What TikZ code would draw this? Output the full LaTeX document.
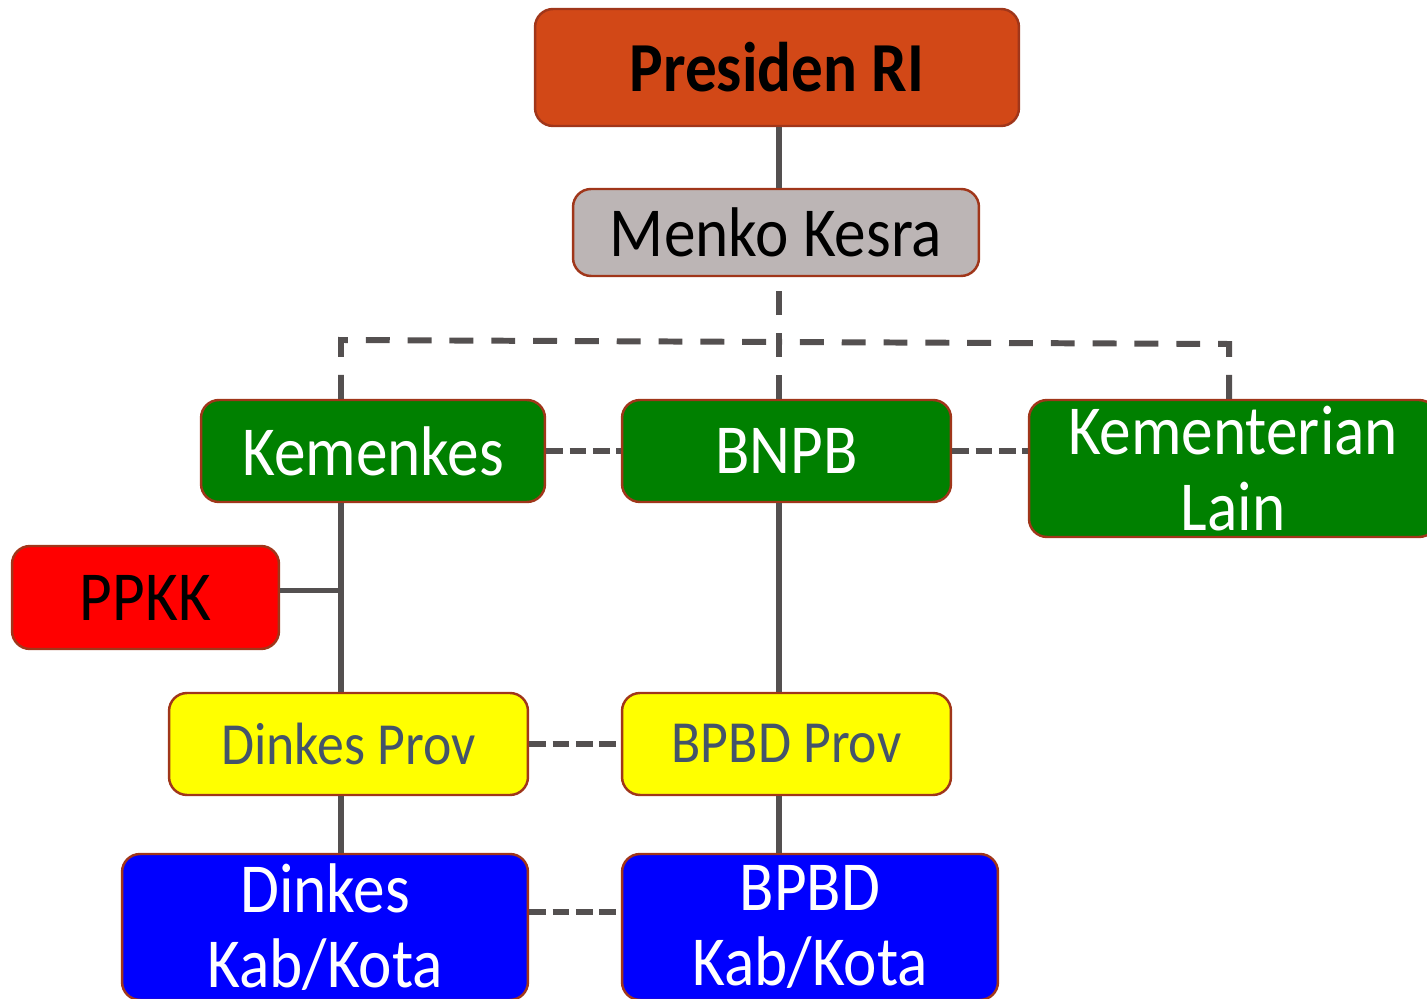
\documentclass[tikz,border=0pt]{standalone}
\usepackage{fontspec}
\setmainfont{Carlito}[FakeStretch=0.9]
\usepackage{tikz}
\usetikzlibrary{calc}

\definecolor{presorange}{HTML}{D24817}
\definecolor{menkogray}{HTML}{BCB5B5}
\definecolor{kemgreen}{HTML}{008000}
\definecolor{ppkkred}{HTML}{FF0000}
\definecolor{provyellow}{HTML}{FFFF00}
\definecolor{kabblue}{HTML}{0000FF}
\definecolor{provtext}{HTML}{44546A}
\definecolor{boxline}{HTML}{A0361A}
\definecolor{linkgray}{HTML}{545050}

\tikzset{
  box/.style={draw=boxline, line width=1.4pt, rounded corners=0.36cm,
    align=center, inner sep=0pt, font=\fontsize{40}{43}\selectfont},
  provbox/.style={box, fill=provyellow, text=provtext,
    font=\fontsize{34}{38}\selectfont},
  solidlink/.style={draw=linkgray, line width=3.4pt},
  dashlink/.style={draw=linkgray, line width=3.4pt, dash pattern=on 9.6pt off 3.7pt},
  barlink/.style={draw=linkgray, line width=3.4pt, dash pattern=on 13.6pt off 10.2pt}
}

\begin{document}
\begin{tikzpicture}[x=0.02cm,y=-0.02cm]
  \useasboundingbox (0,0) rectangle (1427,999);

  % Boxes
  \node[box, fill=presorange, minimum width=9.68cm, minimum height=2.34cm,
    font=\fontsize{40}{43}\bfseries\selectfont] (pres) at (777,67.5) {Presiden RI};
  \node[box, fill=menkogray, minimum width=8.12cm, minimum height=1.74cm] (menko) at (776,232.5) {Menko Kesra};

  \node[box, fill=kemgreen, text=white, minimum width=6.88cm, minimum height=2.04cm] (kemenkes) at (373,451) {Kemenkes};
  \node[box, fill=kemgreen, text=white, minimum width=6.58cm, minimum height=2.04cm] (bnpb) at (786.5,451) {BNPB};
  \node[box, fill=kemgreen, text=white, minimum width=8.16cm, minimum height=2.74cm] (lain) at (1233,468.5) {Kementerian\\Lain};

  \node[box, fill=ppkkred, minimum width=5.34cm, minimum height=2.06cm] (ppkk) at (145.5,597.5) {PPKK};

  \node[provbox, minimum width=7.18cm, minimum height=2.04cm] (dprov) at (348.5,744) {Dinkes Prov};
  \node[provbox, minimum width=6.58cm, minimum height=2.04cm] (bprov) at (786.5,744) {BPBD Prov};

  \node[box, fill=kabblue, text=white, minimum width=8.12cm, minimum height=2.92cm] (dkab) at (325,927) {Dinkes\\Kab/Kota};
  \node[box, fill=kabblue, text=white, minimum width=7.52cm, minimum height=2.92cm] (bkab) at (810,927) {BPBD\\Kab/Kota};

  % Trunk lines
  \coordinate (spine) at (779,0);
  \coordinate (trunk) at (341,0);
  \coordinate (barL) at (341,340);
  \coordinate (barM) at (779,342);
  \coordinate (barR) at (1229,344);

  % Solid links
  \draw[solidlink] (pres.south -| spine) -- (menko.north -| spine);
  \draw[solidlink] (kemenkes.south -| trunk) -- (dprov.north -| trunk);
  \draw[solidlink] (dprov.south -| trunk) -- (dkab.north -| trunk);
  \draw[solidlink] (bnpb.south -| spine) -- (bprov.north -| spine);
  \draw[solidlink] (bprov.south -| spine) -- (bkab.north -| spine);
  \draw[solidlink] ([yshift=0.14cm]ppkk.east) -- ([yshift=0.14cm]ppkk.east -| trunk);

  % Dashed links
  \draw[barlink] (bnpb.north -| spine) -- (menko.south -| spine);
  \draw[barlink] (kemenkes.north -| barL) -- (barL) -- (barM);
  \draw[barlink] (lain.north -| barR) -- (barR) -- (barM);
  \draw[dashlink] (kemenkes.east) -- (bnpb.west);
  \draw[dashlink] (bnpb.east) -- (bnpb.east -| lain.west);
  \draw[dashlink] (dprov.east) -- (bprov.west);
  \draw[dashlink] ([yshift=0.3cm]dkab.east) -- ([yshift=0.3cm]bkab.west);
\end{tikzpicture}
\end{document}
